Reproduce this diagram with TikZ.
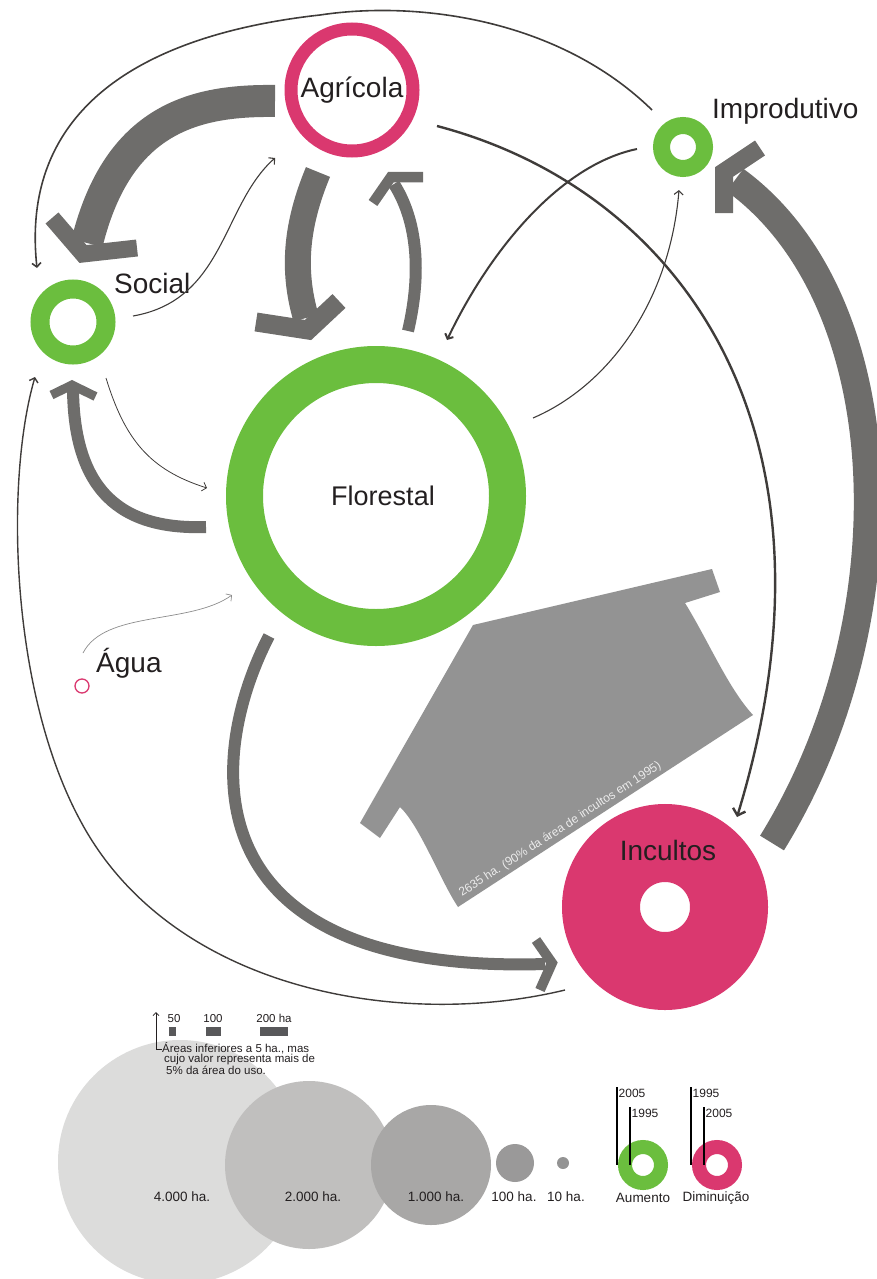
\documentclass[tikz,border=0pt]{standalone}
\usepackage{fontspec}
\setmainfont{Liberation Sans}
\usetikzlibrary{arrows.meta,calc,positioning}
\definecolor{agrpink}{HTML}{DA386F}
\definecolor{forgreen}{HTML}{6BBE3E}
\definecolor{flowgray}{HTML}{6E6D6B}
\definecolor{linedark}{HTML}{3F3C3A}
\definecolor{massgray}{HTML}{939393}
\definecolor{txtdark}{HTML}{231F20}
\definecolor{c4k}{HTML}{DCDCDB}
\definecolor{c2k}{HTML}{C0BFBE}
\definecolor{c1k}{HTML}{A8A7A6}
\definecolor{c100}{HTML}{9A9999}
\definecolor{c10}{HTML}{939393}
\definecolor{bargray}{HTML}{58585A}

\begin{document}
\begin{tikzpicture}[
    x=1pt, y=-1pt,
    ring/.style={circle, draw=#1, inner sep=0pt, outer sep=0pt},
    lbl/.style={font=\fontsize{28}{30}\selectfont, text=txtdark, inner sep=0pt},
    fat/.style={draw=flowgray, line width=#1, line cap=butt},
    fathead/.style={draw=flowgray, line width=#1, line cap=butt, line join=miter},
    flowline/.style={draw=linedark, line width=#1, -{Straight Barb[length=4pt,width=9pt]}},
    legcirc/.style={circle, inner sep=0pt},
    legtxt/.style={font=\fontsize{13.5}{14}\selectfont, text=txtdark, inner sep=0pt},
    yrtxt/.style={font=\fontsize{12}{12}\selectfont, text=txtdark, inner sep=1.5pt, anchor=west},
    bar/.style={rectangle, fill=bargray, minimum height=9, inner sep=0pt},
    tick/.style={draw=black, line width=1.3}
]
    \useasboundingbox (0,0) rectangle (877,1279);

    \fill[massgray] (473,625) -- (712,569) -- (720,592) -- (685,603)
        .. controls (708,640) and (728,688) .. (753,715) -- (458,907)
        .. controls (440,880) and (420,826) .. (400,807) -- (380,838) -- (360,823) -- cycle;
    \node[font=\fontsize{12}{12}\selectfont, text=white!92!black, inner sep=0pt, rotate=33, anchor=base west] (flow-t) at (462,897) {2635 ha. (90\% da área de incultos em 1995)};

    \node[ring=agrpink, line width=13, minimum size=122, lbl] (agri) at (352,90) {Agrícola};
    \node[ring=forgreen, line width=17, minimum size=43] (impro) at (683,147) {};
    \node[ring=forgreen, line width=19, minimum size=66] (social) at (73,322) {};
    \node[ring=forgreen, line width=37, minimum size=263, lbl, font=\fontsize{27}{29}\selectfont] (flor) at (376,496) {\hspace*{14pt}Florestal};
    \node[ring=agrpink, line width=1.3, minimum size=14] (agua) at (82,686) {};
    \node[ring=agrpink, line width=78, minimum size=128] (incu) at (665,907) {};

    \node[lbl, anchor=base west] (impro-t) at (712,119) {Improdutivo};
    \node[lbl, anchor=base west] (social-t) at (114,293) {Social};
    \node[lbl, anchor=base west] (agua-t) at (96,672) {Água};
    \node[lbl, anchor=base] (incu-t) at (668,860) {Incultos};

    \draw[fat=32] ($(agri)+(-77,11)$) .. controls (195,100) and (118,118) .. ($(social)+(14,-79)$);
    \draw[fathead=17] (52,218) -- (83,254) -- (137,248);
    \draw[fat=26] ($(agri)+(-34,82)$) .. controls (296,225) and (292,270) .. ($(flor)+(-70,-178)$);
    \draw[fathead=19] (256,322) -- (308,330) -- (339,301);
    \draw[fat=12] ($(flor)+(32,-165)$) .. controls (420,280) and (420,225) .. ($(agri)+(42,94)$);
    \draw[fathead=10.5] (373,203) -- (391,177) -- (423,177);
    \draw[fat=12] ($(flor)+(-170,31)$) .. controls (120,530) and (74,490) .. ($(social)+(0,67)$);
    \draw[fathead=9] (51.5,395) -- (72,385) -- (95.5,396.5);
    \draw[fat=12] ($(flor)+(-107,140)$) .. controls (205,760) and (190,975) .. ($(incu)+(-120,57)$);
    \draw[fathead=10] (536,940) -- (552,963) -- (540,990);
    \draw[fat=28] ($(incu)+(107,-64)$) .. controls (910,620) and (900,300) .. ($(impro)+(52,33)$);
    \draw[fathead=18] (724,213) -- (724,172) -- (760,148);

    \draw[flowline=1.6] ($(impro)+(-31,-37)$) .. controls (560,20) and (420,0) .. (320,15)
        .. controls (140,35) and (20,110) .. ($(social)+(-36,-54)$);
    \draw[flowline=2.4, -{Straight Barb[length=6pt,width=13pt]}] ($(agri)+(85,36)$) .. controls (680,190) and (855,430) .. ($(incu)+(72,-90)$);
    \draw[flowline=2] ($(impro)+(-46,2)$) .. controls (560,165) and (490,250) .. ($(flor)+(71,-156)$);
    \draw[flowline=1.1] ($(flor)+(157,-78)$) .. controls (610,385) and (670,300) .. ($(impro)+(-4,43)$);
    \draw[flowline=1.1] ($(social)+(60,-6)$) .. controls (225,300) and (222,205) .. ($(agri)+(-77,68)$);
    \draw[flowline=0.8] ($(social)+(33,56)$) .. controls (125,440) and (150,470) .. ($(flor)+(-169,-8)$);
    \draw[flowline=0.7, draw=black!45] ($(agua)+(1,-33)$) .. controls (105,610) and (190,625) .. ($(flor)+(-144,99)$);
    \draw[flowline=1.4] ($(incu)+(-100,83)$) .. controls (400,1030) and (170,990) .. (80,820)
        .. controls (10,690) and (5,480) .. ($(social)+(-38,55)$);

    \node[legcirc, fill=c4k, minimum size=244] (k4000) at (180,1162) {};
    \node[legcirc, fill=c2k, minimum size=168] (k2000) at (309,1165) {};
    \node[legcirc, fill=c1k, minimum size=120] (k1000) at (431,1165) {};
    \node[legcirc, fill=c100, minimum size=38] (k100) at (515,1163) {};
    \node[legcirc, fill=c10, minimum size=12] (k10) at (563,1163) {};
    \node[legtxt] (t4000) at (182,1197) {4.000 ha.};
    \node[legtxt] (t2000) at (313,1197) {2.000 ha.};
    \node[legtxt] (t1000) at (436,1197) {1.000 ha.};
    \node[legtxt] (t100) at (514,1197) {100 ha.};
    \node[legtxt] (t10) at (566,1197) {10 ha.};

    \node[bar, minimum width=7] (bar50) at (172,1031) {};
    \node[bar, minimum width=15] (bar100) at (213,1031) {};
    \node[bar, minimum width=28] (bar200) at (274,1031) {};
    \node[legtxt, font=\fontsize{11.5}{12}\selectfont, above=4pt of bar50, xshift=2pt] (n50) {50};
    \node[legtxt, font=\fontsize{11.5}{12}\selectfont, above=4pt of bar100] (n100) {100};
    \node[legtxt, font=\fontsize{11.5}{12}\selectfont, above=4pt of bar200] (n200) {200 ha};
    \node[font=\fontsize{11.5}{10.5}\selectfont, text=txtdark, align=left, inner sep=0pt, anchor=north west] (note) at (162,1042)
        {Áreas inferiores a 5 ha., mas\\\hspace{2pt}cujo valor representa mais de\\\hspace{4pt}5\% da área do uso.};
    \coordinate (scale-top) at (156,1012);
    \draw[draw=txtdark, line width=0.8, -{Straight Barb[length=3pt,width=6pt]}] (note.north west) ++(0,7) -| (scale-top);

    \node[ring=forgreen, line width=14, minimum size=36] (aum) at (643,1165) {};
    \node[ring=agrpink, line width=14, minimum size=36] (dim) at (717,1165) {};
    \node[yrtxt] (aum-a) at (617,1093) {2005};
    \node[yrtxt] (aum-b) at (630,1113) {1995};
    \node[yrtxt] (dim-a) at (691,1093) {1995};
    \node[yrtxt] (dim-b) at (704,1113) {2005};
    \draw[tick] (aum-a.north west) -- (aum-a.west |- aum.center);
    \draw[tick] (aum-b.north west) -- (aum-b.west |- aum.center);
    \draw[tick] (dim-a.north west) -- (dim-a.west |- dim.center);
    \draw[tick] (dim-b.north west) -- (dim-b.west |- dim.center);
    \node[legtxt] (aum-t) at (643,1198) {Aumento};
    \node[legtxt] (dim-t) at (716,1198) {Diminuição};
\end{tikzpicture}
\end{document}
